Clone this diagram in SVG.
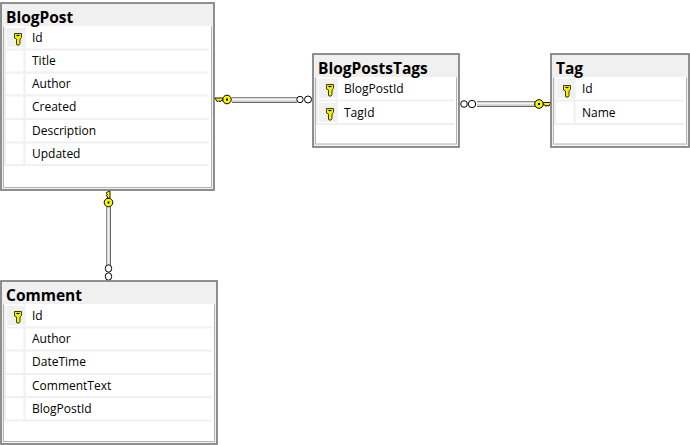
<svg xmlns="http://www.w3.org/2000/svg" width="690" height="445" viewBox="0 0 690 445">
<style>
text{font-family:"Open Sans","Noto Sans","Liberation Sans",sans-serif;fill:#000}
.t{font-size:15.500px;font-weight:700}
.c{font-size:12px}
.o{fill:#f0f0f0;stroke:#757575;stroke-width:1.600}
.i{fill:#fff;stroke:#b4b4b4;stroke-width:1}
.s{stroke:#f0f0f0;stroke-width:2;fill:none}
.k{fill:#f0f0f0}
.rg{fill:#fff;stroke:#000;stroke-width:1}
</style>
<defs>
<g id="pk">
<path d="M-3.500-4.500h7v4l-1.500 1.500v4.500l-1 1.500h-2l-.5-1v-5l-2-1z" fill="#f4f000" stroke="#3b3b00" stroke-width="1"/>
<path d="M-1.500-2.500h3" stroke="#000" stroke-width="1.200"/>
</g>
<g id="conn">
<circle r="4.300" fill="#f8f400" stroke="#000"/>
<path d="M-1 0h2" stroke="#000" stroke-width="1.800"/>
<path d="M-4.500-1.500h-7.500l2 3.500h1l1-1 1 1.500 1-1.500h1.500v-1h.5z" fill="#f8f400" stroke="#000" stroke-width=".9"/>
</g>
</defs>

<g id="connectors">
<g>
<rect x="232" y="97" width="65" height="6" fill="#d0d0d0"/>
<path d="M232 97.500h65" stroke="#8c8c8c"/><path d="M232 102.500h65" stroke="#666"/><path d="M232 99.500h65" stroke="#f4f4f4" stroke-width="1.500"/>
<use href="#conn" transform="translate(227 99.500)"/>
<circle class="rg" cx="300" cy="99.500" r="3.200"/><circle class="rg" cx="308" cy="99.500" r="3.500"/>
</g>
<g>
<rect x="477" y="101" width="59" height="6" fill="#d0d0d0"/>
<path d="M477 101.500h59" stroke="#8c8c8c"/><path d="M477 106.500h59" stroke="#666"/><path d="M477 103.500h59" stroke="#f4f4f4" stroke-width="1.500"/>
<use href="#conn" transform="translate(539 104) scale(-1 1)"/>
<circle class="rg" cx="464" cy="104" r="3.300"/><circle class="rg" cx="472" cy="104" r="3.700"/>
</g>
<g>
<rect x="106" y="207" width="5" height="58" fill="#d0d0d0"/>
<path d="M106.500 207v58" stroke="#8c8c8c"/><path d="M110.500 207v58" stroke="#666"/><path d="M108.500 207v58" stroke="#f4f4f4" stroke-width="1.500"/>
<use href="#conn" transform="translate(108.500 202.500) rotate(90)"/>
<ellipse class="rg" cx="108.500" cy="268.500" rx="3.200" ry="3.700"/><ellipse class="rg" cx="108.500" cy="276.500" rx="3.200" ry="3.700"/>
</g>
</g>

<g id="BlogPost">
<rect class="o" x="1" y="3" width="213" height="187"/>
<rect class="i" x="3.500" y="27" width="208" height="160.500"/>
<rect x="4" y="26" width="207" height="140" fill="#fff"/>
<rect class="k" x="7" y="28" width="17" height="19"/>
<path class="s" d="M5 49.500h204M5 72.500h204M5 95.500h204M5 119h204M5 142.500h204M5 165h204M5 27v138M24.500 27v138"/>
<use href="#pk" transform="translate(18 38)"/>
<text class="t" x="6" y="23">BlogPost</text>
<text class="c" x="32" y="42">Id</text><text class="c" x="32" y="65">Title</text><text class="c" x="32" y="88">Author</text><text class="c" x="32" y="111">Created</text><text class="c" x="32" y="135">Description</text><text class="c" x="32" y="158">Updated</text>
</g>

<g id="BlogPostsTags">
<rect class="o" x="313" y="54" width="146" height="93"/>
<rect class="i" x="315.500" y="78" width="141" height="66"/>
<rect x="316" y="77" width="140" height="50" fill="#fff"/>
<rect class="k" x="319" y="79" width="17" height="19"/>
<rect class="k" x="319" y="103" width="17" height="19"/>
<path class="s" d="M317 100.500h137M317 124h137M317 78v46M336.500 78v46"/>
<use href="#pk" transform="translate(330 89)"/><use href="#pk" transform="translate(330 113)"/>
<text class="t" x="318" y="74">BlogPostsTags</text>
<text class="c" x="344" y="93">BlogPostId</text><text class="c" x="344" y="117">TagId</text>
</g>

<g id="Tag">
<rect class="o" x="551" y="54" width="138" height="93"/>
<rect class="i" x="553.500" y="78" width="133" height="66"/>
<rect x="554" y="77" width="132" height="50" fill="#fff"/>
<rect class="k" x="557" y="79" width="17" height="19"/>
<path class="s" d="M555 100.500h129M555 124h129M555 78v46M574.500 78v46"/>
<use href="#pk" transform="translate(567 90)"/>
<text class="t" x="556" y="74">Tag</text>
<text class="c" x="582" y="93">Id</text><text class="c" x="582" y="117">Name</text>
</g>

<g id="Comment">
<rect class="o" x="1" y="281" width="216" height="163"/>
<rect class="i" x="3.500" y="305" width="211" height="136.500"/>
<rect x="4" y="304" width="210" height="117" fill="#fff"/>
<rect class="k" x="7" y="306" width="17" height="19"/>
<path class="s" d="M5 327.500h207M5 350.500h207M5 374h207M5 397h207M5 420.500h207M5 305v115M24.500 305v115"/>
<use href="#pk" transform="translate(18 316)"/>
<text class="t" x="6" y="301">Comment</text>
<text class="c" x="32" y="320">Id</text><text class="c" x="32" y="343">Author</text><text class="c" x="32" y="366">DateTime</text><text class="c" x="32" y="390">CommentText</text><text class="c" x="32" y="413">BlogPostId</text>
</g>
</svg>
